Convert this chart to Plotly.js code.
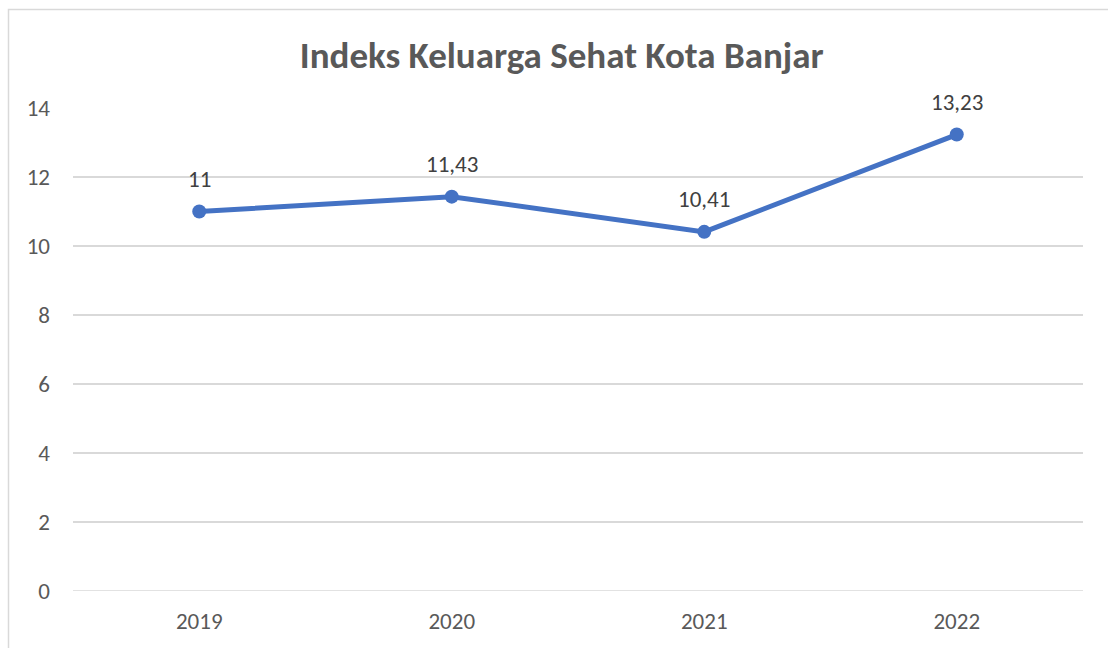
<!DOCTYPE html>
<html><head><meta charset="utf-8">
<script src="https://cdn.plot.ly/plotly-3.0.1.min.js"></script>
<style>html,body{margin:0;padding:0;background:#fff;}#chart{width:1108px;height:648px;}</style>
</head><body><div id="chart"></div>
<script>
const years = ['2019', '2020', '2021', '2022'];
const values = [11, 11.43, 10.41, 13.23];
const yTicks = [0, 2, 4, 6, 8, 10, 12, 14];

const labels = values.map(v => String(v).replace('.', ','));
const FONT = 'Carlito, Lato, "Open Sans", sans-serif';

const trace = {
  x: years, y: values, type: 'scatter', mode: 'lines+markers',
  line: {color: '#4472C4', width: 5},
  marker: {color: '#4472C4', size: 14},
  hoverinfo: 'skip'
};

const annotations = years.map((yr, i) => ({
  x: i, y: values[i], xref: 'x', yref: 'y', text: labels[i],
  showarrow: false, yshift: 33, xanchor: 'center', yanchor: 'middle',
  font: {family: FONT, size: 23, color: '#404040'}
}));

const L = 73, R = 1083, T = 108, B = 591;
const pw = R - L, ph = B - T;
const layout = {
  width: 1108, height: 648,
  margin: {l: L, r: 1108 - R, t: T, b: 648 - B},
  paper_bgcolor: '#fff', plot_bgcolor: '#fff',
  showlegend: false,
  title: {text: '<b>Indeks Keluarga Sehat Kota Banjar</b>', x: 0.507, xanchor: 'center', y: 1 - 55/648, yanchor: 'middle',
    font: {family: FONT, size: 37, color: '#595959'}},
  xaxis: {type: 'category', range: [-0.5, 3.5], showgrid: false, zeroline: false, showline: false,
    ticks: '', tickfont: {family: FONT, size: 23, color: '#595959'}, ticklabelstandoff: 14},
  yaxis: {range: [0, 14], tickvals: yTicks, ticktext: yTicks.map(String), showgrid: true,
    gridcolor: '#d9d9d9', gridwidth: 1.5, zeroline: false, showline: false, ticks: '',
    tickfont: {family: FONT, size: 23, color: '#595959'}, ticklabelstandoff: 22},
  annotations: annotations,
  shapes: [
    {type: 'line', xref: 'paper', yref: 'y', x0: 0, x1: 1, y0: 0, y1: 0, line: {color: '#d9d9d9', width: 1.5}, layer: 'below'},
    {type: 'rect', xref: 'paper', yref: 'paper',
     x0: (8.5 - L)/pw, x1: (1120 - L)/pw, y0: (B - 660)/ph, y1: (B - 9.5)/ph,
     line: {color: '#d9d9d9', width: 1.5}, fillcolor: 'rgba(0,0,0,0)', layer: 'below'}
  ]
};

Plotly.newPlot('chart', [trace], layout, {displayModeBar: false});
</script></body></html>
